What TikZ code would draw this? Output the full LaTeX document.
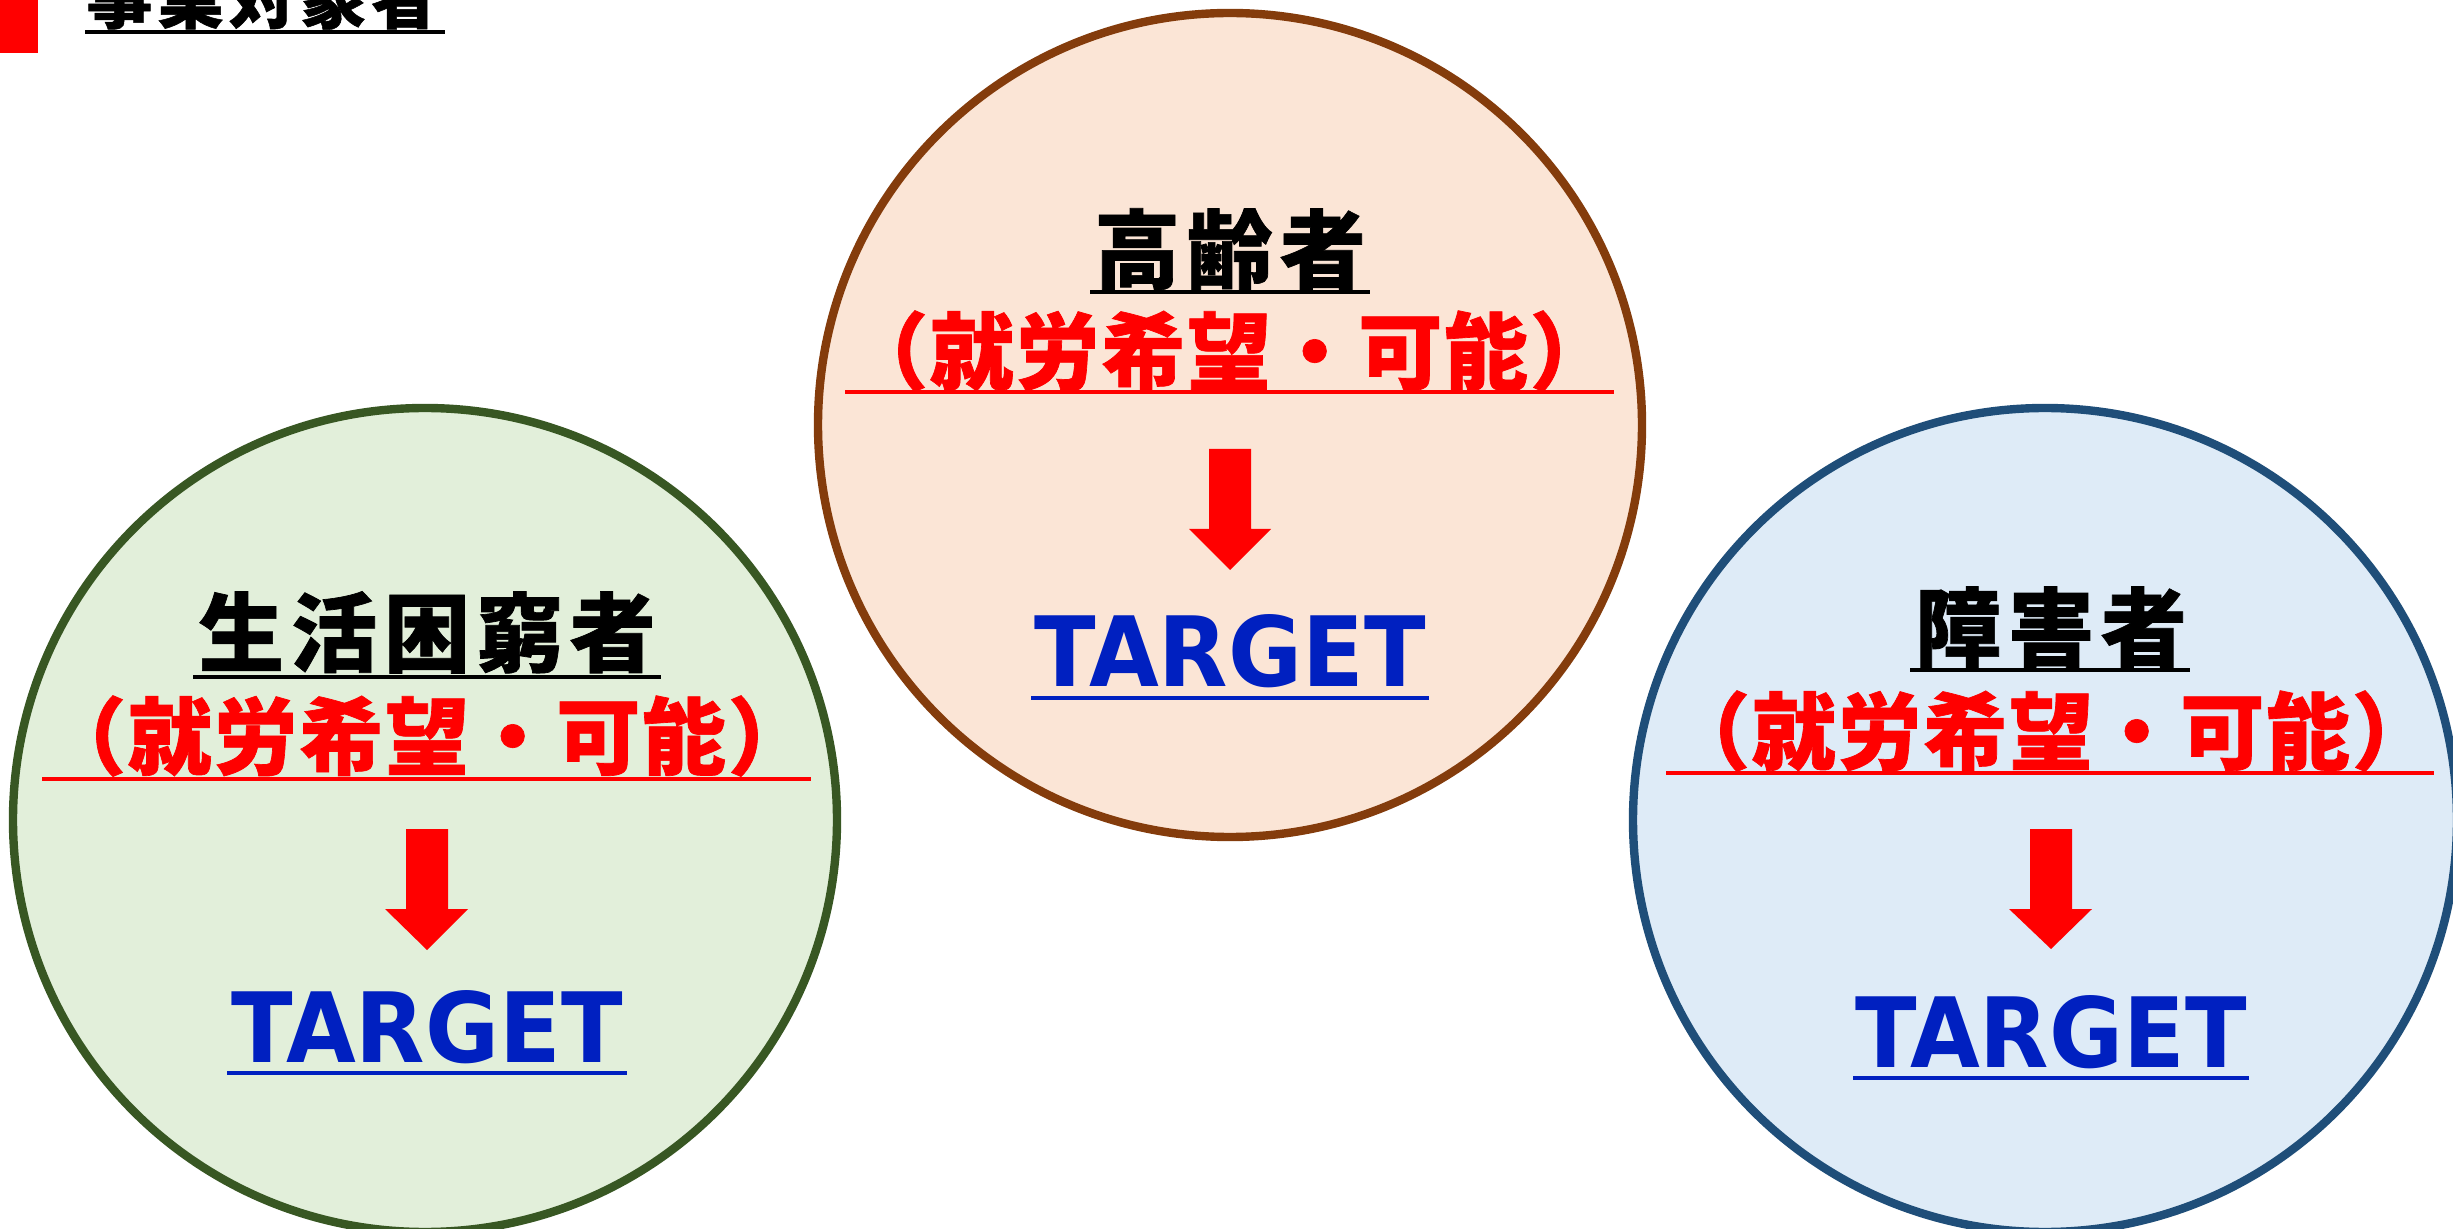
\documentclass[tikz,border=0pt]{standalone}
\usepackage{fontspec}
\usepackage{graphicx}
\newfontfamily\jpHead{Noto Sans CJK JP}[LetterSpace=8, BoldFeatures={FakeBold=0.8}]
\newfontfamily\jpSub{Noto Sans CJK JP}[LetterSpace=2, BoldFeatures={FakeBold=0.8}]
\newfontfamily\jpTop{Noto Sans CJK JP}[LetterSpace=8, BoldFeatures={FakeBold=0.8}]
\newfontfamily\tgtfont{DejaVu Sans}
\definecolor{brownline}{HTML}{843C0C}
\definecolor{peachfill}{HTML}{FBE5D6}
\definecolor{greenline}{HTML}{385723}
\definecolor{greenfill}{HTML}{E2EFDA}
\definecolor{blueline}{HTML}{1F4E79}
\definecolor{bluefill}{HTML}{DEEBF7}
\definecolor{tblue}{HTML}{0020C0}
\definecolor{pured}{HTML}{FF0000}
\begin{document}
\begin{tikzpicture}[x=0.5pt,y=-0.5pt,
  disk/.style={circle, line width=4.2pt, inner sep=0pt, minimum size=412pt},
  lbl/.style={inner sep=0pt, anchor=base},
  headtxt/.style={lbl, font=\jpHead\bfseries\fontsize{43pt}{50pt}\selectfont, text=black},
  subtxt/.style={lbl, font=\jpSub\bfseries\fontsize{42pt}{50pt}\selectfont, text=pured},
  tgttxt/.style={lbl, font=\tgtfont\bfseries\fontsize{48.5pt}{56pt}\selectfont, text=tblue},
  headline/.style={line width=2pt, draw=black},
  subline/.style={line width=2pt, draw=pured},
  tgtline/.style={line width=2.4pt, draw=tblue},
  blockarrow/.style={fill=pured, draw=none}]
\clip (0,0) rectangle (2453,1229);

% page title
\fill[pured] (0,0) rectangle (38,53);
\node[lbl, font=\jpTop\bfseries\fontsize{33pt}{40pt}\selectfont] (title) at (262,23) {事業対象者};
\draw[line width=1.8pt] (85,32) -- (445,32);

% circles
\node[disk, draw=brownline, fill=peachfill] (c1) at (1230,425) {};
\node[disk, draw=greenline, fill=greenfill] (c2) at (425,820) {};
\node[disk, draw=blueline, fill=bluefill] (c3) at (2045,820) {};

% top circle content
\node[headtxt] (h1) at (1230,282) {高齢者};
\draw[headline] (1090,292) -- (1370,292);
\node[subtxt] (s1) at (1229,383) {（就労希望・可能）};
\draw[subline] (845,392) -- (1614,392);
\fill[blockarrow] (1209,449) -- (1251,449) -- (1251,529) -- (1271,529) -- (1230,570) -- (1189,529) -- (1209,529) -- cycle;
\node[tgttxt] (t1) at (1230,687) {\scalebox{0.93}[1]{TARGET}};
\draw[tgtline] (1031,698) -- (1429,698);

% left circle content
\node[headtxt] (h2) at (427,665) {生活困窮者};
\draw[headline] (193,677) -- (661,677);
\node[subtxt] (s2) at (427,768) {（就労希望・可能）};
\draw[subline] (42,779) -- (811,779);
\fill[blockarrow] (406,829) -- (448,829) -- (448,909) -- (468,909) -- (427,950) -- (385,909) -- (406,909) -- cycle;
\node[tgttxt] (t2) at (427,1062) {\scalebox{0.93}[1]{TARGET}};
\draw[tgtline] (227,1073) -- (627,1073);

% right circle content
\node[headtxt] (h3) at (2051,660) {障害者};
\draw[headline] (1910,670) -- (2190,670);
\node[subtxt] (s3) at (2051,763) {（就労希望・可能）};
\draw[subline] (1666,773) -- (2434,773);
\fill[blockarrow] (2030,829) -- (2072,829) -- (2072,909) -- (2092,909) -- (2051,949) -- (2009,909) -- (2030,909) -- cycle;
\node[tgttxt] (t3) at (2051,1067) {\scalebox{0.93}[1]{TARGET}};
\draw[tgtline] (1853,1078) -- (2249,1078);
\end{tikzpicture}
\end{document}
